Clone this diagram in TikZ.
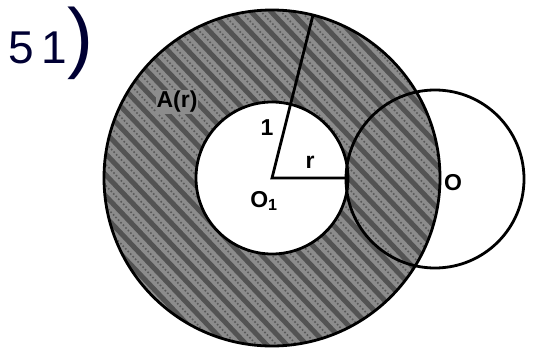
\documentclass[tikz,border=0pt]{standalone}
\usepackage{fontspec}
\setmainfont{Liberation Sans}
\begin{document}
\begin{tikzpicture}[x=1pt,y=-1pt,
  edge/.style={line width=2.8pt,black},
  lbl/.style={font=\bfseries\fontsize{23}{23}\selectfont,inner sep=0pt}]
\useasboundingbox[fill=white] (0,0) rectangle (540,356);
\coordinate (O1) at (272,178);
\coordinate (O) at (435,179);
\coordinate (T) at (313,15);
\coordinate (R) at (348,178);
% annulus fill
\fill[black!45, even odd rule] (O1) circle (168pt) (O1) circle (76pt);
\begin{scope}[even odd rule]
  \clip (O1) circle (168pt) (O1) circle (76pt);
  \foreach \i in {-420,-400,...,560}
    \draw[line width=5pt, black!75, opacity=0.75] (\i,0) -- ++(360,380);
  \foreach \i in {-410,-390,...,570}
    \draw[line width=1.6pt, black!65, dotted] (\i,0) -- ++(360,380);
\end{scope}
% circles
\draw[edge] (O1) circle (168pt);
\draw[edge] (O1) circle (76pt);
\draw[edge] (O) circle (89pt);
% radii
\draw[edge] (T) -- (O1) -- (R);
% labels
\node[lbl] (lone) at (267,128) {1};
\node[lbl] (lr) at (310,162) {r};
\node[lbl] (lo1) at (264,201) {O$_{\mathbf 1}$};
\node[lbl] (lo) at (453,183) {O};
\node[lbl,fill=black!45,inner sep=1pt] (la) at (177,102) {A(r)};
\node[anchor=base west,inner sep=0pt,text=black!80!blue] (num) at (8,63)
  {\fontsize{46}{46}\selectfont 5\,1\fontsize{78}{78}\selectfont)};
\end{tikzpicture}
\end{document}
